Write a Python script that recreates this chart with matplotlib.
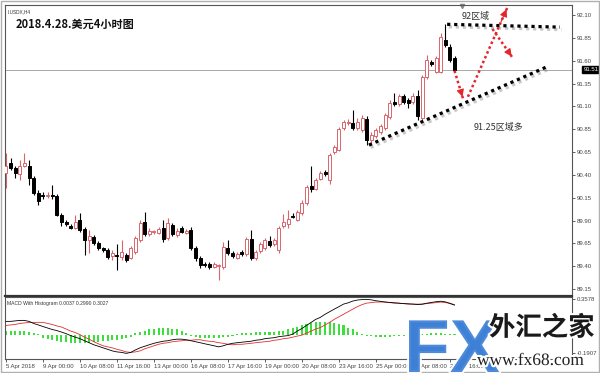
import matplotlib
matplotlib.use('Agg')
import matplotlib.pyplot as plt
import matplotlib.patheffects as pe
from matplotlib.patches import Rectangle
import numpy as np

plt.rcParams['font.family'] = ['Liberation Sans', 'Noto Sans CJK SC', 'DejaVu Sans']

# USDX H4 candles, 5 Apr 16:00 .. 27 Apr 20:00
opens = [
    90.40, 90.51, 90.45, 90.39, 90.48, 90.48, 90.35, 90.18, 90.16, 90.15,
    90.16, 90.15, 89.95, 89.87, 89.83, 89.81, 89.89, 89.80, 89.68, 89.71,
    89.65, 89.59, 89.57, 89.51, 89.52, 89.49, 89.52, 89.48, 89.55, 89.68,
    89.87, 89.74, 89.76, 89.75, 89.81, 89.70, 89.84, 89.73, 89.81, 89.75,
    89.79, 89.59, 89.48, 89.42, 89.42, 89.39, 89.40, 89.39, 89.59, 89.54,
    89.48, 89.55, 89.53, 89.69, 89.48, 89.56, 89.59, 89.67, 89.63, 89.57,
    89.83, 89.85, 89.94, 89.89, 89.97, 90.08, 90.26, 90.23, 90.33, 90.41,
    90.32, 90.62, 90.65, 90.88, 90.94, 90.94, 90.88, 90.86, 90.98, 90.75,
    90.80, 90.84, 90.88, 91.00, 91.16, 91.14, 91.23, 91.18, 91.16, 91.23,
    90.99, 91.43, 91.59, 91.49, 91.49, 91.83, 91.76, 91.64]
highs = [
    90.61, 90.56, 90.47, 90.54, 90.61, 90.54, 90.37, 90.22, 90.19, 90.19,
    90.27, 90.17, 89.97, 89.89, 89.85, 89.95, 89.97, 89.82, 89.79, 89.73,
    89.67, 89.60, 89.59, 89.57, 89.63, 89.68, 89.54, 89.61, 89.72, 89.89,
    89.98, 89.81, 89.79, 89.82, 89.89, 89.91, 89.86, 89.81, 89.83, 89.80,
    89.82, 89.61, 89.51, 89.44, 89.44, 89.44, 89.42, 89.66, 89.68, 89.56,
    89.55, 89.57, 89.71, 89.79, 89.57, 89.66, 89.70, 89.72, 89.70, 89.83,
    89.96, 90.00, 89.97, 90.00, 90.11, 90.27, 90.48, 90.35, 90.42, 90.43,
    90.61, 90.70, 90.89, 90.97, 90.98, 91.08, 90.99, 91.02, 91.01, 90.84,
    90.88, 90.93, 91.04, 91.18, 91.26, 91.25, 91.25, 91.21, 91.26, 91.29,
    91.45, 91.67, 91.62, 91.66, 91.91, 92.00, 91.79, 91.66]
lows = [
    90.24, 90.43, 90.35, 90.32, 90.46, 90.27, 90.16, 90.05, 90.12, 90.13,
    90.12, 89.94, 89.83, 89.83, 89.80, 89.80, 89.76, 89.52, 89.54, 89.62,
    89.57, 89.55, 89.47, 89.46, 89.35, 89.46, 89.44, 89.47, 89.53, 89.66,
    89.72, 89.72, 89.74, 89.74, 89.66, 89.68, 89.72, 89.71, 89.75, 89.74,
    89.57, 89.45, 89.38, 89.39, 89.37, 89.38, 89.25, 89.37, 89.52, 89.48,
    89.47, 89.51, 89.51, 89.46, 89.46, 89.54, 89.57, 89.60, 89.61, 89.54,
    89.81, 89.81, 89.91, 89.88, 89.95, 90.05, 90.20, 90.22, 90.32, 90.37,
    90.28, 90.60, 90.64, 90.86, 90.92, 90.86, 90.86, 90.84, 90.70, 90.70,
    90.78, 90.82, 90.86, 90.98, 91.12, 91.12, 91.14, 91.10, 91.14, 90.97,
    90.97, 91.41, 91.55, 91.48, 91.48, 91.76, 91.59, 91.50]
closes = [
    90.48, 90.45, 90.40, 90.48, 90.51, 90.35, 90.18, 90.10, 90.15, 90.16,
    90.15, 89.95, 89.87, 89.85, 89.81, 89.87, 89.79, 89.68, 89.72, 89.65,
    89.59, 89.57, 89.49, 89.54, 89.51, 89.55, 89.46, 89.59, 89.70, 89.86,
    89.74, 89.77, 89.77, 89.80, 89.69, 89.86, 89.74, 89.77, 89.76, 89.77,
    89.59, 89.48, 89.41, 89.41, 89.39, 89.42, 89.41, 89.60, 89.54, 89.51,
    89.53, 89.53, 89.69, 89.48, 89.55, 89.63, 89.68, 89.62, 89.68, 89.81,
    89.87, 89.90, 89.93, 89.98, 90.08, 90.25, 90.23, 90.32, 90.40, 90.39,
    90.59, 90.68, 90.87, 90.95, 90.95, 90.88, 90.95, 90.99, 90.75, 90.81,
    90.86, 90.90, 91.02, 91.15, 91.14, 91.23, 91.16, 91.15, 91.23, 91.01,
    91.43, 91.62, 91.57, 91.64, 91.86, 91.78, 91.62, 91.51]

macd_main = [
    0.134, 0.134, 0.139, 0.144, 0.144, 0.134, 0.113, 0.098, 0.082, 0.067,
    0.052, 0.041, 0.026, 0.010, -0.010, -0.026, -0.041, -0.062, -0.082, -0.103,
    -0.118, -0.134, -0.149, -0.165, -0.175, -0.180, -0.190, -0.180, -0.155, -0.134,
    -0.118, -0.103, -0.088, -0.077, -0.067, -0.062, -0.052, -0.046, -0.046, -0.052,
    -0.062, -0.072, -0.082, -0.093, -0.103, -0.113, -0.124, -0.113, -0.098, -0.088,
    -0.082, -0.077, -0.072, -0.067, -0.057, -0.052, -0.041, -0.036, -0.031, -0.021,
    -0.015, -0.010, 0.005, 0.036, 0.062, 0.093, 0.124, 0.155, 0.175, 0.206,
    0.232, 0.258, 0.283, 0.309, 0.322, 0.340, 0.350, 0.355, 0.357, 0.352,
    0.343, 0.337, 0.330, 0.326, 0.322, 0.318, 0.314, 0.312, 0.309, 0.305,
    0.308, 0.318, 0.326, 0.333, 0.338, 0.332, 0.315, 0.299]
macd_signal = [
    0.093, 0.098, 0.103, 0.113, 0.118, 0.124, 0.124, 0.124, 0.124, 0.113,
    0.103, 0.088, 0.077, 0.057, 0.036, 0.021, 0.000, -0.026, -0.046, -0.072,
    -0.093, -0.113, -0.124, -0.134, -0.149, -0.160, -0.175, -0.180, -0.175, -0.165,
    -0.144, -0.129, -0.113, -0.098, -0.088, -0.082, -0.072, -0.067, -0.062, -0.057,
    -0.057, -0.052, -0.052, -0.062, -0.067, -0.072, -0.082, -0.088, -0.098, -0.103,
    -0.098, -0.098, -0.093, -0.088, -0.082, -0.077, -0.072, -0.067, -0.057, -0.052,
    -0.041, -0.036, -0.026, -0.015, -0.005, 0.015, 0.036, 0.057, 0.072, 0.098,
    0.124, 0.155, 0.180, 0.206, 0.232, 0.258, 0.283, 0.304, 0.319, 0.324,
    0.330, 0.330, 0.330, 0.324, 0.319, 0.319, 0.314, 0.309, 0.309, 0.309,
    0.309, 0.314, 0.319, 0.324, 0.330, 0.324, 0.319, 0.303]
macd_hist = [
    0.041, 0.041, 0.041, 0.041, 0.041, 0.031, 0.021, 0.010,
    -0.031, -0.041, -0.052, -0.062, -0.072, -0.072, -0.082, -0.082, -0.082, -0.082, -0.082, -0.072, -0.072,
    -0.062, -0.062, -0.052, -0.052, -0.041, -0.031, -0.021,
    0.021, 0.031, 0.041, 0.052, 0.052, 0.062, 0.062, 0.062, 0.052, 0.052, 0.041,
    0.021, -0.010, -0.021, -0.031, -0.031, -0.031, -0.031, -0.031, -0.021, -0.021, -0.010,
    0.010, 0.021, 0.021, 0.021, 0.031, 0.031, 0.031, 0.031, 0.031, 0.041, 0.041, 0.052, 0.062,
    0.082, 0.093, 0.103, 0.113, 0.124, 0.124, 0.124, 0.124, 0.113, 0.103, 0.093, 0.072, 0.052,
    0.031, 0.010, -0.010, -0.010, -0.021,
    -0.021, -0.021, -0.021, -0.010, -0.010, -0.010, 0.000, -0.010, -0.010,
    0.010, 0.010, 0.021, 0.021, 0.021, 0.010, 0.010, 0.0037]

date_labels = ['5 Apr 2018', '9 Apr 00:00', '10 Apr 08:00', '11 Apr 16:00', '13 Apr 00:00',
               '16 Apr 08:00', '17 Apr 16:00', '19 Apr 00:00', '20 Apr 08:00', '23 Apr 16:00',
               '25 Apr 00:00', '26 Apr 08:00', '27 Apr 16:00']
price_labels = ['92.10', '91.85', '91.60', '91.35', '91.10', '90.85', '90.65',
                '90.40', '90.15', '89.90', '89.65', '89.40', '89.15']
last_price = 91.51
macd_labels = ['0.3578', '-0.1907']

# drawn trend lines and arrows (bar index, price)
support_x, support_y = [78.5, 117.3], [90.70, 91.55]
resist_x, resist_y = [95.4, 119.8], [92.00, 91.97]
arrows = [((97.0, 91.50), (98.9, 91.19)),
          ((99.9, 91.22), (108.5, 92.19)),
          ((105.2, 91.95), (109.7, 91.63))]

up_col = '#d9656d'
n = len(closes)
idx = np.arange(n)

fig = plt.figure(figsize=(6, 3.73), dpi=100)
ax = fig.add_axes([5 / 600, 1 - 296 / 373, 567 / 600, 291 / 373])
ax2 = fig.add_axes([5 / 600, 1 - 359 / 373, 567 / 600, 62 / 373])

for i in range(n):
    o, h, l, c = opens[i], highs[i], lows[i], closes[i]
    col = up_col if c >= o else 'black'
    ax.vlines(i, l, h, color=col, lw=0.8, zorder=2)
    body = max(abs(c - o), 0.004)
    ax.add_patch(Rectangle((i - 0.33, min(o, c)), 0.66, body,
                           facecolor='white' if c >= o else 'black',
                           edgecolor=col, lw=0.7, zorder=3))

ax.axhline(last_price, color='#9a9a9a', lw=0.6, zorder=1)

shadow = [pe.SimpleLineShadow(offset=(1.2, -1.8), shadow_color='#888888', alpha=0.45), pe.Normal()]
ax.plot(support_x, support_y, color='black', lw=2.3, ls=(0, (1, 1.2)),
        solid_capstyle='butt', path_effects=shadow, zorder=5)
ax.plot(resist_x, resist_y, color='black', lw=2.3, ls=(0, (1, 1.2)),
        solid_capstyle='butt', path_effects=shadow, zorder=5)

red = '#e4262c'
for (x0, y0), (x1, y1) in arrows:
    ax.plot([x0, x1], [y0, y1], color=red, lw=1.8, ls=(0, (1, 1.1)), zorder=6)
    ax.annotate('', xy=(x1, y1), xytext=(x0 + 0.8 * (x1 - x0), y0 + 0.8 * (y1 - y0)),
                arrowprops=dict(arrowstyle='-|>', color=red, lw=0.8, mutation_scale=11),
                zorder=7)

ax.text(101.6, 92.085, '92区域', fontsize=6.5, color='#333333', ha='center', va='center',
        family=['Noto Sans CJK SC', 'DejaVu Sans'])
ax.text(106.6, 90.89, '91.25区域多', fontsize=6.5, color='#333333', ha='center', va='center',
        family=['Noto Sans CJK SC', 'DejaVu Sans'])

ax.set_xlim(-0.2, 122.4)
ax.set_ylim(89.075, 92.208)
ax.set_xticks([])
ax.yaxis.tick_right()
ax.set_yticks(np.linspace(92.10, 89.15, len(price_labels)))
ax.set_yticklabels(price_labels)
ax.tick_params(axis='y', length=2, width=0.6, pad=1.5, labelsize=4.3, colors='#444444')
for s in ax.spines.values():
    s.set_color('#555555')
    s.set_linewidth(0.8)
ax.spines['bottom'].set_linewidth(1.6)
ax.spines['bottom'].set_color('#333333')

ax.text(1.02, last_price, '91.51', transform=ax.get_yaxis_transform(), fontsize=4.3,
        color='white', va='center', ha='left',
        bbox=dict(boxstyle='square,pad=0.15', facecolor='black', edgecolor='black'))
ax.plot([98.6], [92.20], marker='v', color='#888888', markersize=3, clip_on=False)

ax.text(0.004, 0.985, 'I.USDX,H4', transform=ax.transAxes, fontsize=3.4, color='#333333',
        va='top', ha='left')
ax.text(0.019, 0.957, '2018.4.28.美元4小时图', transform=ax.transAxes, fontsize=8,
        weight='bold', color='#111111', va='top', ha='left',
        family=['Noto Sans CJK SC', 'DejaVu Sans'])

# MACD window
ax2.bar(idx, macd_hist, width=0.45, color='#3be03b', zorder=1)
ax2.plot(idx, macd_main, color='black', lw=0.6, zorder=3)
ax2.plot(idx, macd_signal, color='#e03030', lw=0.6, zorder=2)
ax2.set_xlim(-0.2, 122.4)
ax2.set_ylim(-0.247, 0.381)
ax2.yaxis.tick_right()
ax2.set_yticks([0.3578, -0.1907])
ax2.set_yticklabels(macd_labels)
ax2.tick_params(axis='y', length=2, width=0.6, pad=1.5, labelsize=4.3, colors='#444444')
ax2.set_xticks(np.arange(0, n, 8)[:len(date_labels)])
ax2.set_xticklabels(date_labels, ha='left')
ax2.tick_params(axis='x', length=2, width=0.6, pad=1.5, labelsize=4.3, colors='#444444')
for s in ax2.spines.values():
    s.set_color('#555555')
    s.set_linewidth(0.8)
ax2.text(0.004, 0.93, 'MACD With Histogram 0.0037 0.2990 0.3027', transform=ax2.transAxes,
         fontsize=3.6, color='#333333', va='top', ha='left')

# watermark
glow = [pe.withStroke(linewidth=3, foreground='white')]
fig.text(404 / 600, 1 / 373, 'FX', fontsize=54, weight='bold', color='#3c7fd6', alpha=0.9,
         va='baseline', ha='left', family='Liberation Sans', path_effects=glow)
fig.text(489 / 600, 1 - 328 / 373, '外汇之家', fontsize=19, weight='bold', color='#1a1a1a',
         va='center', ha='left', family=['Noto Sans CJK SC', 'DejaVu Sans'], path_effects=glow)
fig.text(477 / 600, 1 - 361 / 373, 'www.fx68.com', fontsize=12.5, color='#222222',
         va='center', ha='left', family='Liberation Serif', path_effects=glow)

fig.patches.append(Rectangle((0.002, 0.002), 0.996, 0.996, transform=fig.transFigure,
                             fill=False, edgecolor='#b0b0b0', lw=1))

fig.savefig('out.png', dpi=100)
